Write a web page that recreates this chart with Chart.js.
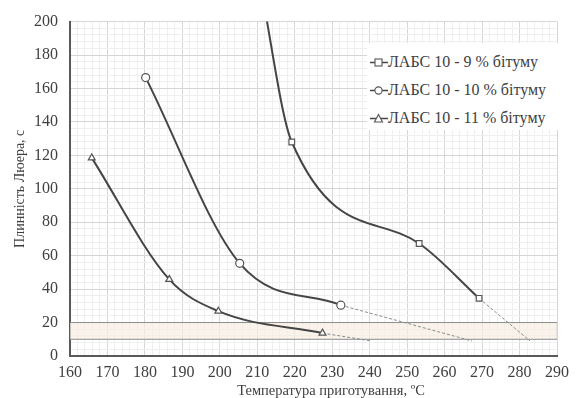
<!DOCTYPE html>
<html><head><meta charset="utf-8">
<script src="https://cdn.jsdelivr.net/npm/chart.js@4/dist/chart.umd.min.js"></script>
<style>
html,body{margin:0;padding:0;background:#fff;}
#wrap{position:relative;width:576px;height:398px;overflow:hidden;}
#legend{position:absolute;left:367px;top:43px;width:193px;height:87px;background:#fff;font-family:"Liberation Serif","Times New Roman",serif;font-size:16px;color:#404040;}
#legend .row{position:absolute;left:3px;height:20px;display:flex;align-items:center;white-space:nowrap;}
#xtitle{position:absolute;left:181px;width:300px;top:382px;text-align:center;font-family:"Liberation Serif","Times New Roman",serif;font-size:14.5px;line-height:16px;color:#404040;white-space:nowrap;}
</style></head>
<body><div id="wrap"><canvas id="c" width="576" height="398"></canvas>
<div id="legend"></div><div id="xtitle"></div></div>
<script>
// ---- data ----
const temp9 = [210.8, 219.2, 253.2, 269.2];
const flow9 = [222, 128, 67.3, 34.5];
const ext9Temp = [269.2, 282.8];
const ext9Flow = [34.5, 9];

const temp10 = [180.2, 205.3, 232.3];
const flow10 = [166.5, 55.4, 30.4];
const ext10Temp = [232.3, 267.3];
const ext10Flow = [30.4, 9];

const temp11 = [165.8, 186.5, 199.6, 227.4];
const flow11 = [118.5, 45.8, 26.8, 13.7];
const ext11Temp = [227.4, 240.4];
const ext11Flow = [13.7, 9];

const bandTemp = [160, 290];
const bandLow = [10, 10];
const bandHigh = [20, 20];

const seriesLabels = ['ЛАБС 10 - 9 % бітуму', 'ЛАБС 10 - 10 % бітуму', 'ЛАБС 10 - 11 % бітуму'];
const xTitle = 'Температура приготування, ºС';
const yTitle = 'Плинність Люера, с';
// ---------------

const serif = '"Liberation Serif","Times New Roman",serif';
Chart.defaults.font.family = serif;
const pts = (xs, ys) => xs.map((x, i) => ({x, y: ys[i]}));
const lineCol = '#454545';
const dashCol = '#8a8a8a';

function mainDs(xs, ys, style, hideFirst) {
  return {
    data: pts(xs, ys), showLine: true, borderColor: lineCol, borderWidth: 2,
    cubicInterpolationMode: 'monotone', pointStyle: style,
    pointRadius: xs.map((_, i) => (hideFirst && i === 0) ? 0 : 4),
    pointBackgroundColor: '#fff', pointBorderColor: '#555', pointBorderWidth: 1.2,
    order: 1
  };
}
function extDs(xs, ys) {
  return { data: pts(xs, ys), showLine: true, borderColor: dashCol, borderWidth: 1,
    borderDash: [3, 2], pointRadius: 0, order: 2 };
}

const datasets = [
  { data: pts(bandTemp, bandLow), showLine: true, borderColor: '#8c8c8c', borderWidth: 1, pointRadius: 0, fill: false, order: 5 },
  { data: pts(bandTemp, bandHigh), showLine: true, borderColor: '#8c8c8c', borderWidth: 1, pointRadius: 0, fill: '-1', backgroundColor: 'rgba(248,238,228,0.7)', order: 5 },
  { data: pts([bandTemp[1], bandTemp[1]], [bandLow[1], bandHigh[1]]), showLine: true, borderColor: '#8c8c8c', borderWidth: 1, pointRadius: 0, order: 5 },
  extDs(ext9Temp, ext9Flow), extDs(ext10Temp, ext10Flow), extDs(ext11Temp, ext11Flow),
  mainDs(temp9, flow9, 'rect', true),
  mainDs(temp10, flow10, 'circle', false),
  mainDs(temp11, flow11, 'triangle', false)
];

new Chart(document.getElementById('c'), {
  type: 'scatter',
  data: { datasets },
  options: {
    responsive: false, animation: false,
    layout: { padding: { left: 0, right: 13, top: 20, bottom: 0 } },
    plugins: { legend: { display: false }, tooltip: { enabled: false } },
    scales: {
      x: {
        type: 'linear', min: 160, max: 290,
        afterFit: s => { s.height = 42; },
        border: { color: '#595959', width: 2 },
        grid: { drawTicks: false, color: c => (c.tick && c.tick.value % 10 === 0) ? '#d6d6d6' : '#efefef', lineWidth: 1 },
        ticks: { stepSize: 2, autoSkip: false, maxRotation: 0, padding: 7, color: '#404040',
          font: { family: serif, size: 16 },
          callback: v => (v % 10 === 0 ? v : '') }
      },
      y: {
        type: 'linear', min: 0, max: 200,
        afterFit: s => { s.width = 70; },
        border: { color: '#595959', width: 2 },
        grid: { drawTicks: false, color: c => (c.tick && c.tick.value % 20 === 0) ? '#d6d6d6' : '#efefef', lineWidth: 1 },
        ticks: { stepSize: 4, autoSkip: false, padding: 12, color: '#404040',
          font: { family: serif, size: 16 },
          callback: v => (v % 20 === 0 ? v : '') },
        title: { display: true, text: yTitle, color: '#404040', font: { family: serif, size: 14, lineHeight: 1 }, padding: { top: 13, bottom: 0 } }
      }
    }
  }
});

document.getElementById('xtitle').textContent = xTitle;

// HTML legend
const shapes = ['<rect x="5" y="3" width="7" height="7" fill="#fff" stroke="#555" stroke-width="1.1"/>',
  '<circle cx="8.5" cy="6.5" r="3.6" fill="#fff" stroke="#555" stroke-width="1.1"/>',
  '<polygon points="8.5,2.5 12.5,10 4.5,10" fill="#fff" stroke="#555" stroke-width="1.1"/>'];
const lg = document.getElementById('legend');
seriesLabels.forEach((t, i) => {
  const r = document.createElement('div');
  r.className = 'row';
  r.style.top = (9 + i * 28) + 'px';
  r.innerHTML = '<svg width="18" height="13"><line x1="0" y1="6.5" x2="18" y2="6.5" stroke="#454545" stroke-width="1.5"/>' + shapes[i] + '</svg><span>' + t + '</span>';
  lg.appendChild(r);
});
</script>
</body></html>
